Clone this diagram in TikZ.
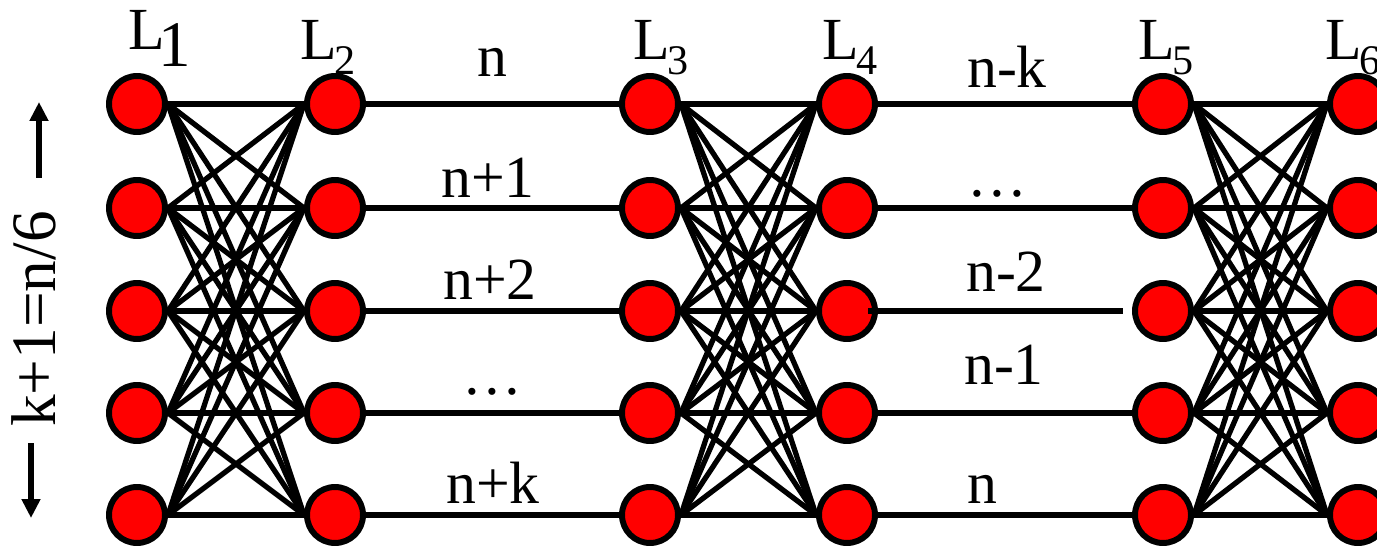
\documentclass[tikz,border=0pt]{standalone}
\usepackage{fontspec}
\setmainfont{Liberation Serif}
\usetikzlibrary{arrows.meta}
\pgfdeclarelayer{edges}
\pgfsetlayers{edges,main}
\newcommand\Lsub[1]{L\kern-1.5pt\raisebox{-8.5pt}{\fontsize{24}{28}\selectfont #1}}
\begin{document}
\begin{tikzpicture}[x=0.02cm,y=-0.02cm,
  neuron/.style={circle,draw=black,fill=red,line width=3.4pt,minimum size=1.12cm,inner sep=0pt},
  link/.style={line width=3pt,draw=black},
  lab/.style={font=\fontsize{34}{40}\selectfont,inner sep=0pt,anchor=base},
  layerlab/.style={font=\fontsize{34}{40}\selectfont,inner sep=0pt,anchor=base west},
  sidearrow/.style={line width=3.2pt,-{Triangle[length=0.38cm,width=0.36cm]}}]
\clip (0,0) rectangle (1377,547);
% layer labels (drawn first, circles overlap them)
\node[layerlab] (t1) at (128,50) {L\kern-3.5pt\raisebox{-9.6pt}{\fontsize{37}{40}\selectfont 1}};
\node[layerlab] (t2) at (300,60) {\Lsub{2}};
\node[layerlab] (t3) at (633,60) {\Lsub{3}};
\node[layerlab] (t4) at (822,60) {\Lsub{4}};
\node[layerlab] (t5) at (1138,60) {\Lsub{5}};
\node[layerlab] (t6) at (1325,60) {\Lsub{6}};
% neurons
\foreach \c/\x in {1/137,2/335,3/650,4/847,5/1163,6/1358}
  \foreach \r/\y in {1/104,2/208,3/311,4/413,5/515}
    \node[neuron] (L\c-\r) at (\x,\y) {};
% connections behind the neurons
\begin{pgfonlayer}{edges}
\foreach \a/\b in {1/2,3/4,5/6}
  \foreach \i in {1,...,5}
    \foreach \j in {1,...,5}
      \draw[link] (L\a-\i.east) -- (L\b-\j.west);
\foreach \i in {1,...,5}
  \draw[link] (L2-\i.east) -- (L3-\i.west);
\foreach \i in {1,2,4,5}
  \draw[link] (L4-\i.east) -- (L5-\i.west);
\end{pgfonlayer}
\draw[link] ([xshift=0.42cm]L4-3.center) -- ([xshift=-0.18cm]L5-3.west);
% line labels
\node[lab] (a1) at (492,77) {n};
\node[lab] (a2) at (488,198) {n+1};
\node[lab] (a3) at (490,300) {n+2};
\node[lab] (a4) at (492,395) {…};
\node[lab] (a5) at (493,503) {n+k};
\node[lab] (b1) at (1007,88) {n-k};
\node[lab] (b2) at (997,197) {…};
\node[lab] (b3) at (1006,292) {n-2};
\node[lab] (b4) at (1004,385) {n-1};
\node[lab] (b5) at (982,503) {n};
% side annotation
\node[font=\fontsize{36}{40}\selectfont,rotate=90,anchor=base west,inner sep=0pt] (side) at (55,427) {k+1=n/6};
\coordinate (upS) at (39,178);
\coordinate (upT) at (39,102);
\coordinate (dnS) at (31,443);
\coordinate (dnT) at (31,518);
\draw[sidearrow] (upS) -- (upT);
\draw[sidearrow] (dnS) -- (dnT);
\end{tikzpicture}
\end{document}
